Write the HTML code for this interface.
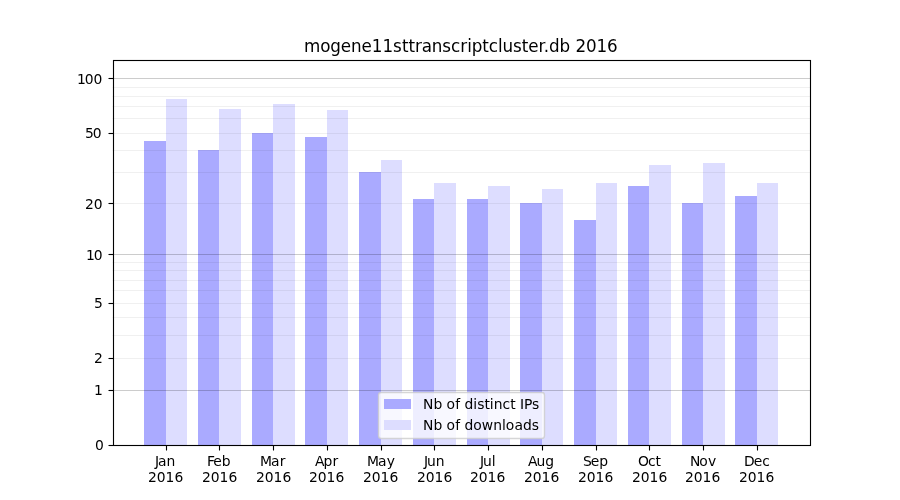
<!DOCTYPE html>
<html lang="en">
<head>
<meta charset="utf-8">
<title>mogene11sttranscriptcluster.db 2016</title>
<style>
html,body{margin:0;padding:0;background:#fff;}
body{width:900px;height:500px;overflow:hidden;}
svg{display:block;}
text{font-family:"DejaVu Sans","Liberation Sans",sans-serif;fill:#000;}
.t10{font-size:13.889px;}
.t12{font-size:16.667px;}
</style>
</head>
<body>
<svg width="900" height="500" viewBox="0 0 900 500">
<rect x="0" y="0" width="900" height="500" fill="#ffffff"/>
<g shape-rendering="crispEdges">
<rect x="144" y="141" width="22" height="304" fill="#aaaaff"/>
<rect x="166" y="99" width="21" height="346" fill="#ddddff"/>
<rect x="198" y="150" width="21" height="295" fill="#aaaaff"/>
<rect x="219" y="109" width="22" height="336" fill="#ddddff"/>
<rect x="252" y="133" width="21" height="312" fill="#aaaaff"/>
<rect x="273" y="104" width="22" height="341" fill="#ddddff"/>
<rect x="305" y="137" width="22" height="308" fill="#aaaaff"/>
<rect x="327" y="110" width="21" height="335" fill="#ddddff"/>
<rect x="359" y="172" width="22" height="273" fill="#aaaaff"/>
<rect x="381" y="160" width="21" height="285" fill="#ddddff"/>
<rect x="413" y="199" width="21" height="246" fill="#aaaaff"/>
<rect x="434" y="183" width="22" height="262" fill="#ddddff"/>
<rect x="467" y="199" width="21" height="246" fill="#aaaaff"/>
<rect x="488" y="186" width="22" height="259" fill="#ddddff"/>
<rect x="520" y="203" width="22" height="242" fill="#aaaaff"/>
<rect x="542" y="189" width="21" height="256" fill="#ddddff"/>
<rect x="574" y="220" width="22" height="225" fill="#aaaaff"/>
<rect x="596" y="183" width="21" height="262" fill="#ddddff"/>
<rect x="628" y="186" width="21" height="259" fill="#aaaaff"/>
<rect x="649" y="165" width="22" height="280" fill="#ddddff"/>
<rect x="682" y="203" width="21" height="242" fill="#aaaaff"/>
<rect x="703" y="163" width="22" height="282" fill="#ddddff"/>
<rect x="735" y="196" width="22" height="249" fill="#aaaaff"/>
<rect x="757" y="183" width="21" height="262" fill="#ddddff"/>
</g>
<g stroke="#000" stroke-width="1" fill="none">
<path d="M112.5 358.5H810.0" stroke-opacity="0.06"/>
<path d="M112.5 335.5H810.0" stroke-opacity="0.06"/>
<path d="M112.5 317.5H810.0" stroke-opacity="0.06"/>
<path d="M112.5 303.5H810.0" stroke-opacity="0.06"/>
<path d="M112.5 290.5H810.0" stroke-opacity="0.06"/>
<path d="M112.5 280.5H810.0" stroke-opacity="0.06"/>
<path d="M112.5 270.5H810.0" stroke-opacity="0.06"/>
<path d="M112.5 262.5H810.0" stroke-opacity="0.06"/>
<path d="M112.5 203.5H810.0" stroke-opacity="0.06"/>
<path d="M112.5 172.5H810.0" stroke-opacity="0.06"/>
<path d="M112.5 150.5H810.0" stroke-opacity="0.06"/>
<path d="M112.5 133.5H810.0" stroke-opacity="0.06"/>
<path d="M112.5 118.5H810.0" stroke-opacity="0.06"/>
<path d="M112.5 106.5H810.0" stroke-opacity="0.06"/>
<path d="M112.5 96.5H810.0" stroke-opacity="0.06"/>
<path d="M112.5 87.5H810.0" stroke-opacity="0.06"/>
<path d="M112.5 390.5H810.0" stroke-opacity="0.2"/>
<path d="M112.5 254.5H810.0" stroke-opacity="0.2"/>
<path d="M112.5 78.5H810.0" stroke-opacity="0.2"/>
</g>
<g stroke="#000" stroke-width="1.111" fill="none">
<path d="M166.5 445V450.5"/>
<path d="M219.5 445V450.5"/>
<path d="M273.5 445V450.5"/>
<path d="M327.5 445V450.5"/>
<path d="M381.5 445V450.5"/>
<path d="M434.5 445V450.5"/>
<path d="M488.5 445V450.5"/>
<path d="M542.5 445V450.5"/>
<path d="M596.5 445V450.5"/>
<path d="M649.5 445V450.5"/>
<path d="M703.5 445V450.5"/>
<path d="M757.5 445V450.5"/>
<path d="M113 445.5H108.5"/>
<path d="M113 390.5H108.5"/>
<path d="M113 358.5H108.5"/>
<path d="M113 303.5H108.5"/>
<path d="M113 254.5H108.5"/>
<path d="M113 203.5H108.5"/>
<path d="M113 133.5H108.5"/>
<path d="M113 78.5H108.5"/>
</g>
<rect x="113.5" y="60.5" width="697.0" height="385.0" fill="none" stroke="#000" stroke-width="1.111"/>
<text class="t10" x="154.875 157.875 166.5" y="466">Jan</text><text class="t10" x="148 156.625 165.5 174.375" y="482">2016</text>
<text class="t10" x="206.875 213.25 221.75" y="466">Feb</text><text class="t10" x="202 210.75 219.5 228.375" y="482">2016</text>
<text class="t10" x="260 270.875 279.75" y="466">Mar</text><text class="t10" x="256 264.75 273.5 282.375" y="482">2016</text>
<text class="t10" x="314.875 323.375 332.375" y="466">Apr</text><text class="t10" x="309 317.75 326.5 335.375" y="482">2016</text>
<text class="t10" x="366.875 378 386.625" y="466">May</text><text class="t10" x="363 371.75 380.5 389.375" y="482">2016</text>
<text class="t10" x="423.875 427 435.75" y="466">Jun</text><text class="t10" x="417 425.625 434.5 443.375" y="482">2016</text>
<text class="t10" x="479.875 483 491.75" y="466">Jul</text><text class="t10" x="470 478.75 487.5 496.375" y="482">2016</text>
<text class="t10" x="527.875 536.5 545.25" y="466">Aug</text><text class="t10" x="524 532.75 541.5 550.375" y="482">2016</text>
<text class="t10" x="582.875 590.75 599.25" y="466">Sep</text><text class="t10" x="578 586.75 595.5 604.375" y="482">2016</text>
<text class="t10" x="637.875 647.875 655.375" y="466">Oct</text><text class="t10" x="632 640.75 649.5 658.375" y="482">2016</text>
<text class="t10" x="689.875 699.25 707.875" y="466">Nov</text><text class="t10" x="685 693.75 702.5 711.375" y="482">2016</text>
<text class="t10" x="743.875 753.75 762.25" y="466">Dec</text><text class="t10" x="739 747.75 756.5 765.375" y="482">2016</text>
<text class="t10" x="95" y="450">0</text>
<text class="t10" x="94" y="395">1</text>
<text class="t10" x="94" y="363">2</text>
<text class="t10" x="94" y="308">5</text>
<text class="t10" x="85.875 93.75" y="260">10</text>
<text class="t10" x="85 93.75" y="209">20</text>
<text class="t10" x="84.875 92.75" y="138">50</text>
<text class="t10" x="76.875 84.75 93.375" y="84">100</text>
<text class="t12" style="font-size:16.75px" x="304 320.125 330.25 340.75 351 361.5 371.75 382.5 392.875 401.875 408.375 414.875 421.625 431.75 442.125 451 460.25 467.125 471.75 482.25 488.75 497.875 502.375 513 521.75 528.25 538.5 543.75 549 559.5 570.125 575.375 586 596.375 607" y="52">mogene11sttranscriptcluster.db 2016</text>
<path d="M381.28 392.5L541.72 392.5Q544.5 392.5 544.5 395.28L544.5 435.72Q544.5 438.5 541.72 438.5L381.28 438.5Q378.5 438.5 378.5 435.72L378.5 395.28Q378.5 392.5 381.28 392.5Z" fill="#fff" fill-opacity="0.8" stroke="#ccc" stroke-opacity="0.8" stroke-width="1.389"/>
<g shape-rendering="crispEdges"><rect x="384" y="399" width="27" height="10" fill="#aaaaff"/><rect x="384" y="420" width="27" height="10" fill="#ddddff"/></g>
<text class="t10" x="422.875 433.375 442.25 446.5 455.125 460.125 464.375 473.25 477.125 484.375 489.75 493.75 502.375 510.125 515.625 520 523.875 532" y="409">Nb of distinct IPs</text><text class="t10" x="422.875 433.375 442.25 446.5 455.125 460.125 464.375 473.25 481.75 493.125 502 505.75 514.375 522.875 531.75" y="430">Nb of downloads</text>
</svg>
</body>
</html>
